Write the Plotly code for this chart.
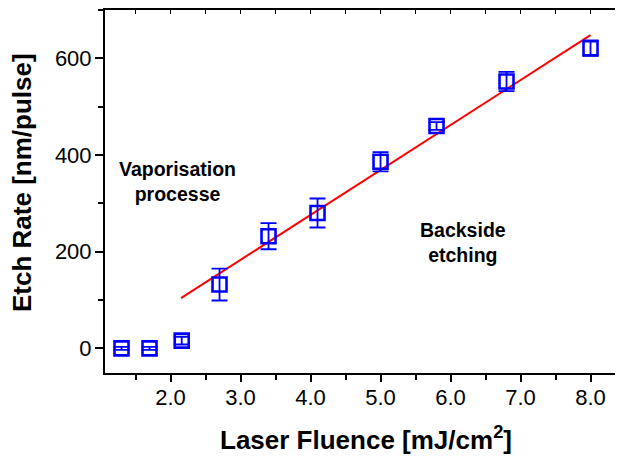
import plotly.graph_objects as go

# Data
fluence = [1.3, 1.7, 2.16, 2.7, 3.4, 4.1, 5.0, 5.8, 6.8, 8.0]
etch_rate = [0, 0, 16, 132, 232, 280, 386, 460, 552, 621]
etch_err = [3, 3, 8, 33, 27, 30, 20, 8, 20, 16]

fit_x = [2.15, 8.0]
fit_y = [104, 648]

x_ticks = [2, 3, 4, 5, 6, 7, 8]
x_tick_labels = ["2.0", "3.0", "4.0", "5.0", "6.0", "7.0", "8.0"]
y_ticks = [0, 200, 400, 600]

FONT = "Arial, 'Liberation Sans', sans-serif"
XR = [1.064, 8.464]
YR = [-51, 700]

# the page body has an 8px default margin; compensate for it
OFF = 8
W, H = 623 - OFF, 459 - OFF
L, T = 105 - OFF, 10 - OFF
PB = 373 - OFF
B = H - PB
PW, PH = W - L, PB - T


def px(x):
    return (x - OFF - L) / PW


def py(y):
    return (PB - (y - OFF)) / PH


fig = go.Figure()

fig.add_trace(go.Scatter(
    x=fit_x, y=fit_y, mode="lines",
    line=dict(color="#FF0000", width=2),
    showlegend=False, hoverinfo="skip",
))

fig.add_trace(go.Scatter(
    x=fluence, y=etch_rate, mode="markers",
    marker=dict(symbol="square-open", size=14, color="#0000FF",
                line=dict(color="#0000FF", width=2.6)),
    error_y=dict(type="data", array=etch_err, visible=True,
                 color="#0000FF", thickness=1.8, width=8),
    showlegend=False,
))

# invisible trace to anchor the top axis
fig.add_trace(go.Scatter(x=[XR[0]], y=[YR[0]], xaxis="x2", mode="markers",
                         marker=dict(opacity=0), showlegend=False,
                         hoverinfo="skip"))

fig.update_layout(
    width=W, height=H,
    margin=dict(l=L, r=0, t=T, b=B, autoexpand=False),
    paper_bgcolor="white", plot_bgcolor="white",
    font=dict(family=FONT, color="black"),
    xaxis=dict(
        range=XR, showgrid=False, zeroline=False, automargin=False,
        showline=True, linecolor="black", linewidth=2,
        ticks="outside", ticklen=7, tickwidth=1.5, tickcolor="black",
        tickvals=x_ticks, ticktext=x_tick_labels,
        tickfont=dict(size=22, family=FONT),
        ticklabelstandoff=-3,
        minor=dict(ticks="outside", ticklen=5, tickwidth=1.5,
                   tickcolor="black", dtick=0.5, tick0=0, showgrid=False),
    ),
    xaxis2=dict(
        overlaying="x", side="top", range=XR, showgrid=False, zeroline=False,
        automargin=False,
        showline=True, linecolor="black", linewidth=2,
        ticks="inside", ticklen=4, tickwidth=1.2, tickcolor="black",
        dtick=0.5, tick0=0, showticklabels=False,
    ),
    yaxis=dict(
        range=YR, showgrid=False, zeroline=False, automargin=False,
        showline=True, linecolor="black", linewidth=2,
        ticks="outside", ticklen=8, tickwidth=1.5, tickcolor="black",
        tickvals=y_ticks, tickfont=dict(size=22, family=FONT),
        ticklabelstandoff=-1,
        minor=dict(ticks="outside", ticklen=5, tickwidth=1.5,
                   tickcolor="black", dtick=100, tick0=0, showgrid=False),
    ),
)

annots = [
    dict(text="<b>Vaporisation<br>processe</b>", x=177, y=181, size=19.5),
    dict(text="<b>Backside<br>etching</b>", x=463, y=243, size=19.5),
    dict(text="<b>Laser Fluence [mJ/cm<sup>2</sup>]</b>", x=366, y=438, size=26),
]
for a in annots:
    fig.add_annotation(
        text=a["text"], xref="paper", yref="paper",
        x=px(a["x"]), y=py(a["y"]),
        xanchor="center", yanchor="middle", showarrow=False,
        font=dict(size=a["size"], family=FONT, color="black"),
    )

fig.add_annotation(
    text="<b>Etch Rate [nm/pulse]</b>", xref="paper", yref="paper",
    x=px(22), y=py(183),
    xanchor="center", yanchor="middle", showarrow=False, textangle=-90,
    font=dict(size=26, family=FONT, color="black"),
)

fig.write_html("out.html")
